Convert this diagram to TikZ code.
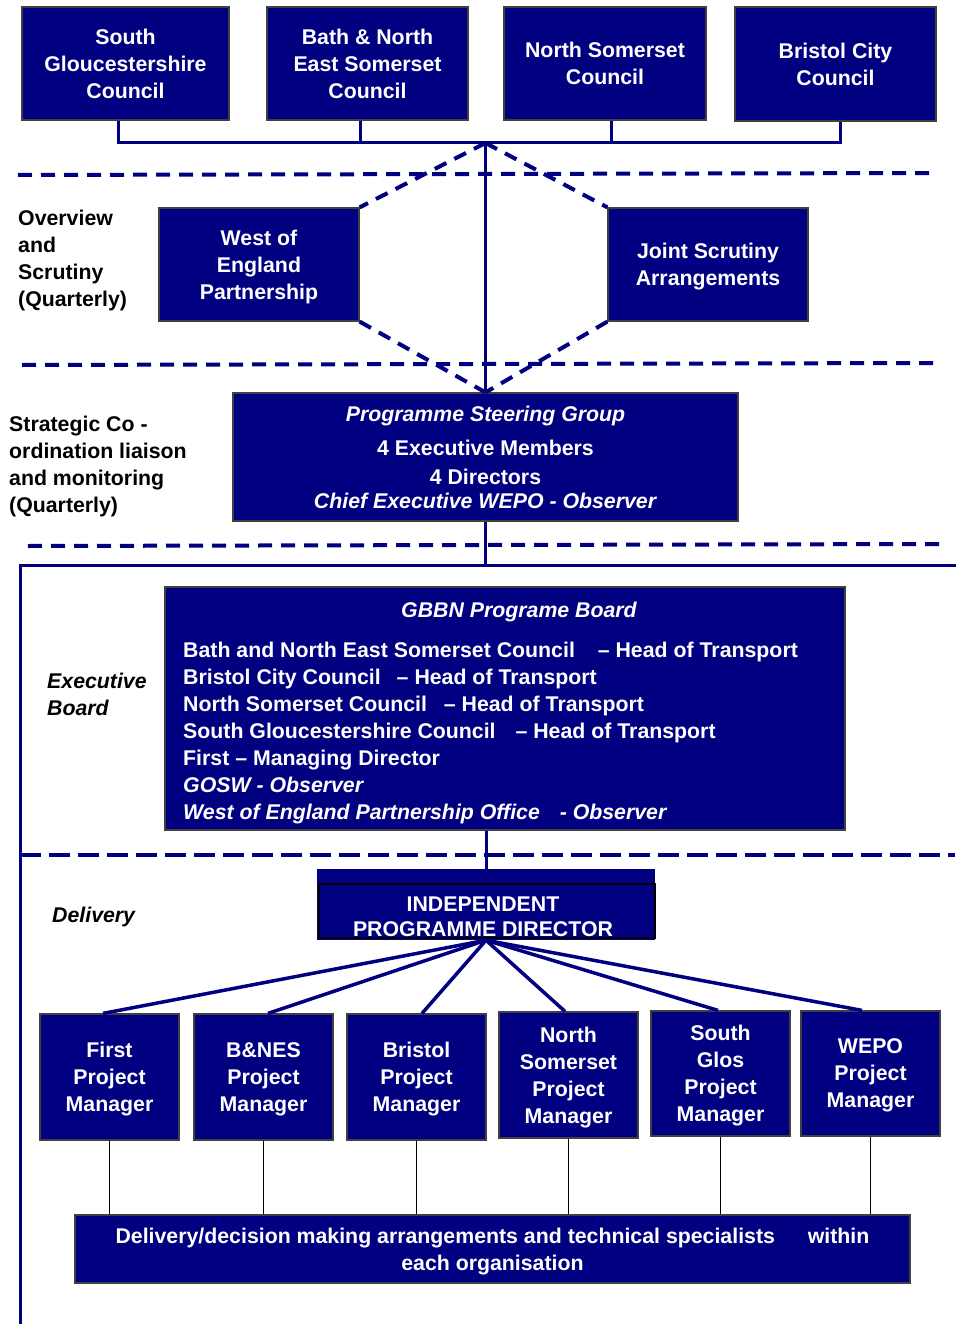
\documentclass[tikz,border=0pt]{standalone}
\usepackage{fontspec}
\setmainfont{Liberation Sans}
\usepackage{xcolor}
\usepackage{tikz}
\definecolor{gbnavy}{HTML}{000080}
\newcommand{\orgfont}{\fontsize{21.3}{27}\selectfont\bfseries}

\begin{document}
\begin{tikzpicture}[x=1pt, y=-1pt,
  orgbox/.style={draw=black!75, line width=1.2, fill=gbnavy, text=white, font=\orgfont, align=center, inner sep=0},
  sidetext/.style={font=\orgfont, align=left, anchor=west, inner sep=0},
  link/.style={gbnavy, line width=3},
  fan/.style={gbnavy, line width=3.5},
  drop/.style={black, line width=1.2},
  divider/.style={gbnavy, line width=4, dash pattern=on 14pt off 9pt},
  crossing/.style={gbnavy, line width=4, dash pattern=on 13pt off 9pt},
  bigdivider/.style={gbnavy, line width=4.5, dash pattern=on 21pt off 8pt}]
\useasboundingbox (0,0) rectangle (955,1324);
% councils
\node [orgbox, minimum width=207, minimum height=113] (sgc) at (125.5, 63.5) {South\\Gloucestershire\\Council};
\node [orgbox, minimum width=201, minimum height=113] (banes) at (367.5, 63.5) {Bath \& North\\East Somerset\\Council};
\node [orgbox, minimum width=202, minimum height=113] (nsc) at (605, 63.5) {North Somerset\\Council};
\node [orgbox, minimum width=201, minimum height=114] (bcc) at (835.5, 64) {Bristol City\\Council};
\coordinate (bus) at (485.5, 143);
\coordinate (sgcdrop) at ([xshift=-7.5]sgc.south);
\coordinate (banesdrop) at ([xshift=-7.5]banes.south);
\coordinate (nscdrop) at ([xshift=6]nsc.south);
\coordinate (bccdrop) at ([xshift=4.5]bcc.south);
\draw [link] (sgcdrop) |- (bus) -| (bccdrop);
\draw [link] (banesdrop) -- (banesdrop |- bus);
\draw [link] (nscdrop) -- (nscdrop |- bus);
% dividers
\draw [divider] (18, 175) -- (935, 173);
\draw [divider] (22, 365) -- (938, 363);
\draw [divider] (28, 546) -- (945, 544);
% overview and scrutiny
\node [orgbox, minimum width=200, minimum height=113, text depth=-2.5pt] (wep) at (259, 264.5) {West of\\England\\Partnership};
\node [orgbox, minimum width=200, minimum height=113, text depth=-2.5pt] (jsa) at (708, 264.5) {Joint Scrutiny\\Arrangements};
\node [sidetext] (ovlabel) at (18, 260) {Overview\\and\\Scrutiny\\(Quarterly)};
% steering group
\node [orgbox, minimum width=505, minimum height=128, text depth=-8pt] (psg) at (485.5, 457) {\textit{Programme Steering Group}\\[7pt] 4 Executive Members\\[2pt] 4 Directors\\[-3pt] \textit{Chief Executive WEPO - Observer}};
\node [sidetext] (stlabel) at (9, 466) {Strategic Co -\\ordination liaison\\and monitoring\\(Quarterly)};
\draw [link] (bus) -- (psg.north);
\draw [crossing] (bus) -- (wep.north east);
\draw [crossing] (bus) -- (jsa.north west);
\draw [crossing] (wep.south east) -- (psg.north);
\draw [crossing] (jsa.south west) -- (psg.north);
% executive board
\coordinate (frametop) at (485.5, 565);
\draw [link] (20, 1330) -- (20, 565) -- (960, 565);
\draw [link] (psg.south) -- (frametop);
\node [orgbox, minimum width=680, minimum height=243] (gbbn) at (505, 708.5) {};
\node [font=\orgfont\itshape, text=white, inner sep=0] (gbbntitle) at (519, 612) {GBBN Programe Board};
\node [font=\orgfont, text=white, align=left, anchor=north west, inner sep=0] (gbbnlist) at (183, 642) {Bath and North East Somerset Council\hspace{17pt} – Head of Transport\\
Bristol City Council\hspace{10pt} – Head of Transport\\
North Somerset Council\hspace{11pt} – Head of Transport\\
South Gloucestershire Council\hspace{14pt} – Head of Transport\\
First – Managing Director\\
\textit{GOSW - Observer}\\
\textit{West of England Partnership Office\hspace{14pt} - Observer}};
\node [sidetext, font=\orgfont\itshape] (exlabel) at (47, 694.5) {Executive\\Board};
\draw [bigdivider] (20, 855) -- (955, 855);
% delivery
\node [fill=gbnavy, minimum width=338, minimum height=71, inner sep=0] (ipd) at (486, 904.5) {};
\node [draw=black, line width=1.5, minimum width=336, minimum height=54, inner sep=0] (ipdframe) at (487, 911) {};
\node [text=white, align=center, inner sep=0, font=\fontsize{21.3}{25}\selectfont\bfseries] (ipdtext) at (483, 916.5) {INDEPENDENT\\PROGRAMME DIRECTOR};
\draw [link] (ipd.north |- gbbn.south) -- (ipd.north);
\node [sidetext, font=\orgfont\itshape] (dllabel) at (52, 917) {Delivery};
\node [orgbox, minimum width=139, minimum height=126, text depth=-8pt] (pmfirst) at (109.5, 1077) {First\\Project\\Manager};
\node [orgbox, minimum width=139, minimum height=126, text depth=-8pt] (pmbanes) at (263.5, 1077) {B\&NES\\Project\\Manager};
\node [orgbox, minimum width=139, minimum height=126, text depth=-8pt] (pmbristol) at (416.5, 1077) {Bristol\\Project\\Manager};
\node [orgbox, minimum width=139, minimum height=126, text depth=-9pt] (pmnsc) at (568.5, 1075) {North\\Somerset\\Project\\Manager};
\node [orgbox, minimum width=139, minimum height=125, text depth=-8pt] (pmsglos) at (720.5, 1073.5) {South\\Glos\\Project\\Manager};
\node [orgbox, minimum width=139, minimum height=125, text depth=-6pt] (pmwepo) at (870.5, 1073.5) {WEPO\\Project\\Manager};
\draw [fan] (ipd.south) -- ([xshift=-6.5]pmfirst.north);
\draw [fan] (ipd.south) -- ([xshift=4.5]pmbanes.north);
\draw [fan] (ipd.south) -- ([xshift=5.5]pmbristol.north);
\draw [fan] (ipd.south) -- ([xshift=-3.5]pmnsc.north);
\draw [fan] (ipd.south) -- ([xshift=-2.5]pmsglos.north);
\draw [fan] (ipd.south) -- ([xshift=-8.5]pmwepo.north);
\node [orgbox, minimum width=835, minimum height=68, text depth=-9pt] (deliv) at (492.5, 1249) {Delivery/decision making arrangements and technical specialists\hspace{27pt} within\\each organisation};
\draw [drop] (pmfirst.south) -- (pmfirst.south |- deliv.north);
\draw [drop] (pmbanes.south) -- (pmbanes.south |- deliv.north);
\draw [drop] (pmbristol.south) -- (pmbristol.south |- deliv.north);
\draw [drop] (pmnsc.south) -- (pmnsc.south |- deliv.north);
\draw [drop] (pmsglos.south) -- (pmsglos.south |- deliv.north);
\draw [drop] (pmwepo.south) -- (pmwepo.south |- deliv.north);
\end{tikzpicture}
\end{document}
